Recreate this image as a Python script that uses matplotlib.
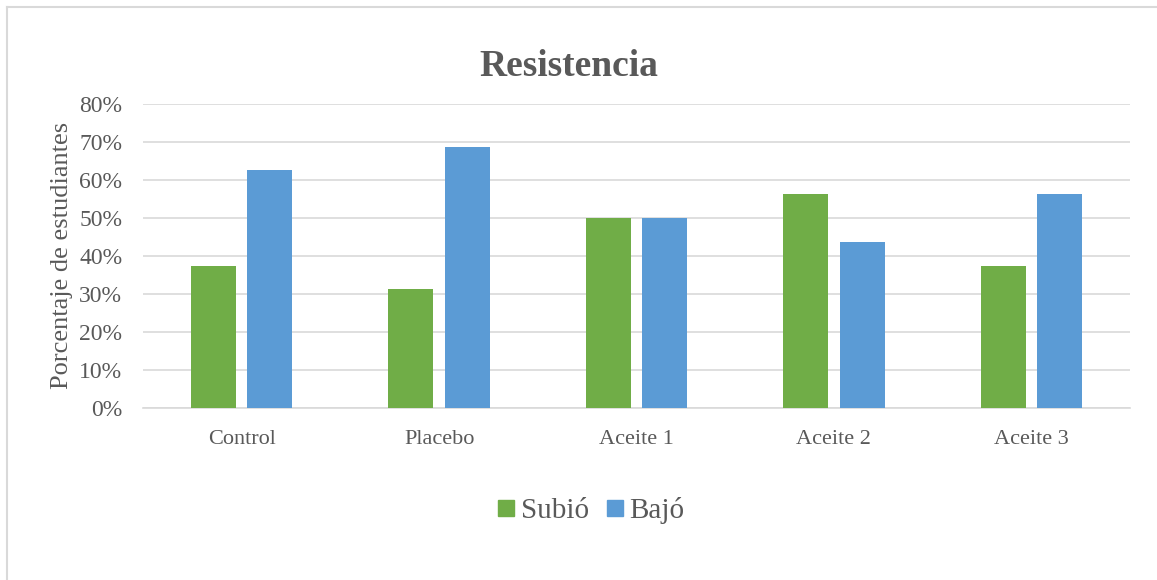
import matplotlib
matplotlib.use("Agg")
import matplotlib.pyplot as plt
import numpy as np
from matplotlib.ticker import FuncFormatter
from matplotlib.lines import Line2D

categories = ["Control", "Placebo", "Aceite 1", "Aceite 2", "Aceite 3"]
subio = [37.5, 31.25, 50.0, 56.25, 37.5]
bajo = [62.5, 68.75, 50.0, 43.75, 56.25]
series_names = ["Subió", "Bajó"]
y_ticks = [0, 10, 20, 30, 40, 50, 60, 70, 80]

GREEN = "#70AD47"
BLUE = "#5B9BD5"
TEXT = "#595959"
GRID = "#D9D9D9"

plt.rcParams["font.family"] = ["Liberation Serif", "DejaVu Serif"]

W, H = 1157, 580
fig = plt.figure(figsize=(W / 100, H / 100), dpi=100)
ax = fig.add_axes([143 / W, 1 - 408 / H, (1130 - 143) / W, (408 - 104) / H])

x = np.arange(len(categories))
width = 0.228
offset = 0.143
ax.bar(x - offset, subio, width, color=GREEN, label=series_names[0], zorder=3)
ax.bar(x + offset, bajo, width, color=BLUE, label=series_names[1], zorder=3)

ax.set_xlim(-0.5, len(categories) - 0.5)
ax.set_ylim(0, 80)
ax.set_yticks(y_ticks)
ax.yaxis.set_major_formatter(FuncFormatter(lambda v, p: f"{v:.0f}%"))
ax.set_xticks(x)
ax.set_xticklabels(categories)
ax.grid(axis="y", color=GRID, linewidth=1.2, zorder=0)
ax.set_axisbelow(True)
for s in ["top", "right", "left"]:
    ax.spines[s].set_visible(False)
ax.spines["bottom"].set_color(GRID)
ax.spines["bottom"].set_linewidth(1.2)
ax.tick_params(axis="both", length=0, colors=TEXT)
ax.tick_params(axis="y", pad=15, labelsize=17)
ax.tick_params(axis="x", pad=16, labelsize=16)

fig.text(62 / W, 1 - 255.5 / H, "Porcentaje de estudiantes", rotation=90,
         ha="center", va="center", fontsize=19, color=TEXT)

fig.text(569 / W, 1 - 66 / H, "Resistencia", ha="center", va="center",
         fontsize=27, fontweight="bold", color=TEXT)

handles = [Line2D([], [], marker="s", linestyle="none", markersize=11,
                  markerfacecolor=c, markeredgecolor=c) for c in (GREEN, BLUE)]
fig.legend(handles, series_names, loc="center", bbox_to_anchor=(588 / W, 1 - 511 / H),
           ncol=2, frameon=False, fontsize=21, labelcolor=TEXT,
           handletextpad=0.0, columnspacing=0.4, handlelength=1.0)

# chart-area border (top and left edges)
fig.add_artist(Line2D([6.5 / W, 1], [1 - 6.5 / H, 1 - 6.5 / H], color=GRID, linewidth=1.5))
fig.add_artist(Line2D([6.5 / W, 6.5 / W], [0, 1 - 6.5 / H], color=GRID, linewidth=1.5))

fig.savefig("out.png", dpi=100, facecolor="white")
